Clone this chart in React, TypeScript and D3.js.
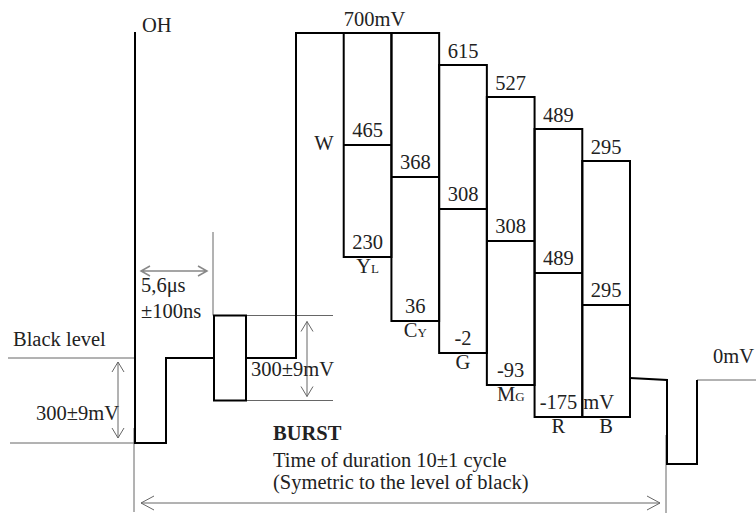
import React from "react";
import * as d3 from "d3";

// colour-bar test signal, one line (values in mV as printed on the drawing)
const BARS = ["W", "YL", "CY", "G", "MG", "R", "B"];
const BAR_NAME = ["W", "Y", "C", "G", "M", "R", "B"];
const BAR_SUB = ["", "L", "Y", "", "G", "", ""];
const UPPER_MV = [700, 700, 700, 615, 527, 489, 295];
const MID_MV: (number | null)[] = [null, 465, 368, 308, 308, 489, 295];
const LOWER_MV: (number | null)[] = [null, 230, 36, -2, -93, -175, -175];

const SYNC_MV = -300;
const BLANK_MV = 0;
const BURST_MV = 150; // half amplitude, symmetric to black

const W = 756;
const H = 513;
const FONT = '"Liberation Serif", "Times New Roman", "DejaVu Serif", serif';
const THICK = "#000";
const THIN = "#666";

// schematic layout (not to scale)
const X_OH = 135;
const X_SYNC_END = 166;
const X_BURST0 = 214;
const X_BURST1 = 246;
const X_ACTIVE0 = 296;
const X_ACTIVE1 = 630;
const X_FRONT_END = 667;
const X_SYNC2_END = 697;

const x = d3.scaleBand<string>().domain(BARS).range([X_ACTIVE0, X_ACTIVE1]).paddingInner(0).paddingOuter(0);
const yStep = d3.scaleLinear().domain([0, 12]).range([33, 417]);
const ySigL = d3.scaleLinear().domain([SYNC_MV, BLANK_MV]).range([443, 358]);
const ySigR = d3.scaleLinear().domain([SYNC_MV, BLANK_MV]).range([464, 380]);

// drawing uses equal steps rather than true mV spacing
const upperDistinct = Array.from(new Set(UPPER_MV)).sort((a, b) => b - a);
const lowerDistinct = Array.from(new Set(LOWER_MV.filter((v) => v !== null) as number[])).sort((a, b) => b - a);
const upperLevel = (v: number) => upperDistinct.indexOf(v);
const lowerLevel = (v: number) => {
  const r = lowerDistinct.indexOf(v);
  const lvl = 12 - (lowerDistinct.length - 1 - r);
  return r === 0 ? lvl - 1 : lvl; // extra gap between Y_L and C_Y in the original
};
const midLevel = (i: number) => 3.5 + (i - 1);

function hArrow(x0: number, x1: number, y: number, len: number, half: number) {
  return (
    `M${x0},${y}L${x1},${y}` +
    `M${x0 + len},${y - half}L${x0},${y}L${x0 + len},${y + half}` +
    `M${x1 - len},${y - half}L${x1},${y}L${x1 - len},${y + half}`
  );
}
function vArrow(xx: number, y0: number, y1: number, len: number, half: number) {
  return (
    `M${xx},${y0}L${xx},${y1}` +
    `M${xx - half},${y0 + len}L${xx},${y0}L${xx + half},${y0 + len}` +
    `M${xx - half},${y1 - len}L${xx},${y1}L${xx + half},${y1 - len}`
  );
}

const fmt = (v: number) => (v < 0 ? "-" + Math.abs(v) : String(v));

export default function App() {
  const bw = x.bandwidth();
  const yBlack = ySigL(BLANK_MV);
  const ySync = ySigL(SYNC_MV);

  // porch, sync and burst on the left
  const leftPath =
    `M${X_OH},32L${X_OH},${ySync}L${X_SYNC_END},${ySync}L${X_SYNC_END},${yBlack}L${X_BURST0},${yBlack}` +
    `M${X_BURST1},${yBlack}L${X_ACTIVE0},${yBlack}L${X_ACTIVE0},${yStep(upperLevel(UPPER_MV[0]))}L${x("YL")},${yStep(upperLevel(UPPER_MV[0]))}`;
  const burstTop = ySigL(BURST_MV);
  const burstBot = ySigL(-BURST_MV);

  const rightPath =
    `M${X_ACTIVE1},${ySigR(BLANK_MV) - 2}L${X_FRONT_END},${ySigR(BLANK_MV)}L${X_FRONT_END},${ySigR(SYNC_MV)}` +
    `L${X_SYNC2_END},${ySigR(SYNC_MV)}L${X_SYNC2_END},${ySigR(BLANK_MV)}`;

  const fs = 20.5;

  return (
    <svg
      width={W}
      height={H}
      style={{ position: "absolute", left: 0, top: 0, background: "#fff", fontFamily: FONT, fontSize: fs }}
      fill="#222"
    >
      {/* thin reference lines */}
      <g stroke={THIN} strokeWidth={1} fill="none">
        <line x1={8} x2={X_OH} y1={yBlack} y2={yBlack} />
        <line x1={10} x2={X_OH} y1={ySync} y2={ySync} />
        <path d={vArrow(118, yBlack + 4, ySync - 5, 10, 6)} />
        <line x1={X_BURST0 - 1} x2={X_BURST0 - 1} y1={232} y2={burstTop} />
        <path d={hArrow(141, 207, 271, 9, 5)} stroke="#888" strokeWidth={1.5} />
        <line x1={X_BURST1} x2={333} y1={burstTop} y2={burstTop} />
        <line x1={X_BURST1} x2={333} y1={burstBot} y2={burstBot} />
        <path d={vArrow(307, burstTop + 6, burstBot - 4, 10, 6)} />
        <line x1={X_OH - 1} x2={X_OH - 1} y1={428} y2={512} />
        <line x1={X_FRONT_END - 1} x2={X_FRONT_END - 1} y1={435} y2={513} />
        <path d={hArrow(141, 660, 503, 13, 7)} />
        <line x1={X_SYNC2_END} x2={W} y1={ySigR(BLANK_MV)} y2={ySigR(BLANK_MV)} />
      </g>

      {/* thick waveform */}
      <g stroke={THICK} strokeWidth={2} fill="none" strokeLinejoin="miter">
        <path d={leftPath} />
        <rect x={X_BURST0} y={burstTop} width={X_BURST1 - X_BURST0} height={burstBot - burstTop} />
        {BARS.map((b, i) => {
          const lo = LOWER_MV[i];
          if (lo === null) return null;
          const x0 = x(b)!;
          const yt = yStep(upperLevel(UPPER_MV[i]));
          const yb = yStep(lowerLevel(lo));
          const ym = yStep(midLevel(i));
          return (
            <g key={b}>
              <rect x={x0} y={yt} width={bw} height={yb - yt} />
              <line x1={x0} x2={x0 + bw} y1={ym} y2={ym} />
            </g>
          );
        })}
        <path d={rightPath} />
      </g>

      {/* value labels */}
      <text x={x("YL")! + bw / 2 + 7} y={yStep(0) - 7} textAnchor="middle">
        {UPPER_MV[0]}mV
      </text>
      {BARS.map((b, i) => {
        const cx = x(b)! + bw / 2;
        const items: React.ReactNode[] = [];
        if (i >= 3) {
          items.push(
            <text key="u" x={cx} y={yStep(upperLevel(UPPER_MV[i])) - 7} textAnchor="middle">
              {fmt(UPPER_MV[i])}
            </text>
          );
        }
        const mid = MID_MV[i];
        if (mid !== null) {
          items.push(
            <text key="m" x={cx} y={yStep(midLevel(i)) - 8} textAnchor="middle">
              {fmt(mid)}
            </text>
          );
        }
        const lo = LOWER_MV[i];
        if (lo !== null && i !== 6) {
          items.push(
            <text key="l" x={cx} y={yStep(lowerLevel(lo)) - 8} textAnchor="middle">
              {fmt(lo)}
            </text>
          );
        }
        if (i === 0) {
          items.push(
            <text key="n" x={cx + 4} y={150} textAnchor="middle">
              {BAR_NAME[i]}
            </text>
          );
        } else {
          const yb = yStep(lowerLevel(lo as number));
          items.push(
            <text key="n" x={cx} y={yb + 16} textAnchor="middle">
              {BAR_NAME[i]}
              {BAR_SUB[i] && <tspan fontSize={13}>{BAR_SUB[i]}</tspan>}
            </text>
          );
        }
        return <g key={b}>{items}</g>;
      })}
      <text x={x("B")! + 1} y={yStep(12) - 8}>mV</text>

      {/* annotations */}
      <text x={142} y={32}>OH</text>
      <text x={13} y={346}>Black level</text>
      <text x={36} y={420}>300±9mV</text>
      <text x={141} y={292}>5,6μs</text>
      <text x={141} y={318}>±100ns</text>
      <text x={251} y={376}>300±9mV</text>
      <text x={713} y={363}>0mV</text>
      <text x={273} y={440} fontWeight="bold">BURST</text>
      <text x={273} y={467}>Time of duration 10±1 cycle</text>
      <text x={273} y={489}>(Symetric to the level of black)</text>
    </svg>
  );
}
